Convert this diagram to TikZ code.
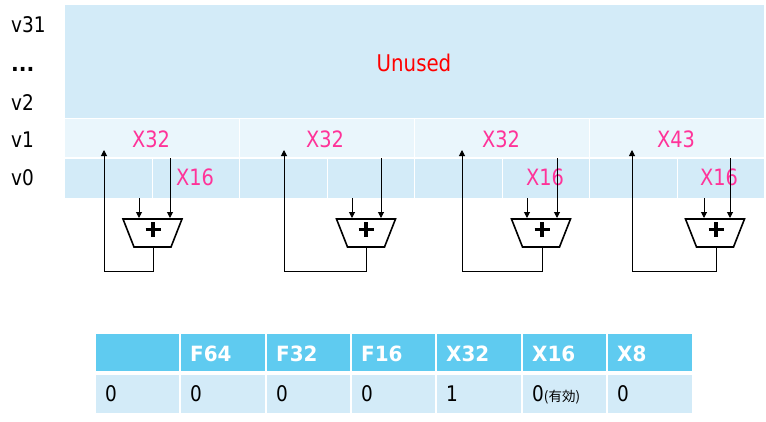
\documentclass[tikz,border=0pt]{standalone}
\usepackage{fontspec}
\setmainfont{DejaVu Sans}[FakeStretch=0.86, BoldFeatures={FakeStretch=0.95}]
\newfontfamily\cjk{Noto Sans CJK JP}
\usetikzlibrary{arrows.meta}
\definecolor{regbg}{HTML}{D3EBF8}
\definecolor{reglite}{HTML}{EAF6FC}
\definecolor{hdr}{HTML}{5FCBF0}
\definecolor{cellbg}{HTML}{D3EBF8}
\definecolor{pinkt}{HTML}{FF3399}
\tikzset{
  lbl/.style={font=\fontsize{21.5}{21.5}\selectfont, anchor=base west, inner sep=0pt},
  pk/.style={font=\fontsize{22.5}{22.5}\selectfont, text=pinkt, anchor=base, inner sep=0pt},
  hd/.style={font=\fontsize{21}{21}\selectfont\bfseries, text=white, anchor=base west, inner sep=0pt},
  dt/.style={font=\fontsize{21.5}{21.5}\selectfont, anchor=base west, inner sep=0pt},
  sepline/.style={white, line width=1.5pt},
  wire/.style={line width=1pt},
  arr/.style={wire, -{Triangle[length=6pt,width=6pt]}},
  adder/.style={line width=1.6pt, line join=miter},
  plussign/.style={line width=3.5pt},
}
\begin{document}
\begin{tikzpicture}[x=1pt,y=-1pt]
\useasboundingbox (0,0) rectangle (766,421);
% register area
\fill[regbg] (65,5) rectangle (764,118.5);
\fill[reglite] (65,118.5) rectangle (764,158);
\fill[regbg] (65,158) rectangle (764,198);
\draw[sepline] (65,118.5) -- (764,118.5);
\draw[sepline] (65,158) -- (764,158);
\foreach \x in {239.5,414.5,589.5} \draw[sepline] (\x,118.5) -- (\x,198);
\foreach \x in {152.5,327.5,502.5,677.5} \draw[sepline] (\x,158) -- (\x,198);
% left labels
\node[lbl] (lv31) at (11,32) {v31};
\node[lbl] (ldots) at (11,71) {\textbf{...}};
\node[lbl] (lv2) at (11,110) {v2};
\node[lbl] (lv1) at (11,147) {v1};
\node[lbl] (lv0) at (11,185) {v0};
% unused
\node[font=\fontsize{23}{23}\selectfont, text=red, anchor=base, inner sep=0pt] (unused) at (414,71) {Unused};
% pink labels
\node[pk] (a1) at (151,147) {X32};
\node[pk] (a2) at (325,147) {X32};
\node[pk] (a3) at (501,147) {X32};
\node[pk] (a4) at (676,147) {X43};
\node[pk] (b1) at (195,185) {X16};
\node[pk] (b3) at (545,185) {X16};
\node[pk] (b4) at (719,185) {X16};
% adders
\foreach \i/\u/\l/\r/\c/\o in {1/104/139/170/152.5/153, 2/284/352/381/366/366, 3/462/527/557/541/542, 4/632/704/730/715/716}{
  \coordinate (srcL\i) at (\l,198);
  \coordinate (srcR\i) at (\r,158);
  \coordinate (inL\i) at (\l,218);
  \coordinate (inR\i) at (\r,218);
  \coordinate (out\i) at (\o,247);
  \coordinate (dst\i) at (\u,150);
  \draw[adder] ({\c-29.5},219) -- ({\c+29.5},219) -- ({\c+18.5},247) -- ({\c-18.5},247) -- cycle;
  \draw[plussign] ({\o-7.5},229.5) -- ({\o+7.5},229.5);
  \draw[plussign] (\o,222) -- (\o,237);
  \draw[arr] (srcL\i) -- (inL\i);
  \draw[arr] (srcR\i) -- (inR\i);
  \draw[arr] (out\i) |- (\u,271) -- (dst\i);
}
% table
\fill[hdr] (96,334) rectangle (692,371);
\fill[cellbg] (96,375) rectangle (692,413);
\foreach \x in {180,266,351,436,522,607} \draw[sepline] (\x,334) -- (\x,413);
\node[hd] (h2) at (190,361) {F64};
\node[hd] (h3) at (276,361) {F32};
\node[hd] (h4) at (361,361) {F16};
\node[hd] (h5) at (446,361) {X32};
\node[hd] (h6) at (532,361) {X16};
\node[hd] (h7) at (617,361) {X8};
\node[dt] (d1) at (105,401) {0};
\node[dt] (d2) at (190,401) {0};
\node[dt] (d3) at (276,401) {0};
\node[dt] (d4) at (361,401) {0};
\node[dt] (d5) at (446,401) {1};
\node[dt] (d6) at (532,401) {0{\cjk\fontsize{13.5}{13.5}\selectfont (有効)}};
\node[dt] (d7) at (617,401) {0};
\end{tikzpicture}
\end{document}
